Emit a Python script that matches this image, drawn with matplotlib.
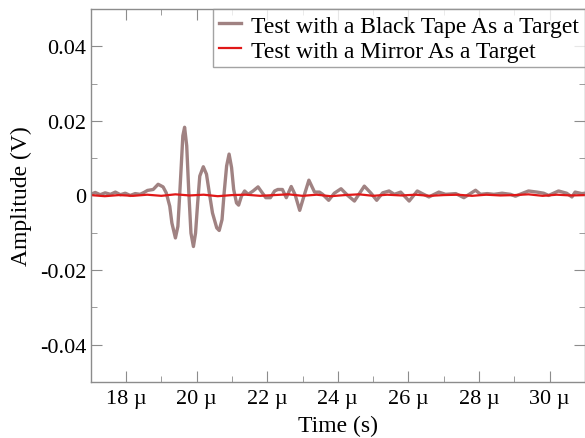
import matplotlib
matplotlib.use("Agg")
import matplotlib.pyplot as plt
from matplotlib.ticker import MultipleLocator

plt.rcParams['font.family'] = ['Liberation Serif', 'DejaVu Serif']
plt.rcParams['axes.unicode_minus'] = False

# Time in microseconds, amplitude in volts
tape_t = [17.00, 17.13, 17.27, 17.41, 17.56, 17.70, 17.84, 17.98, 18.12, 18.26,
          18.40, 18.51, 18.61, 18.77, 18.91, 19.05, 19.14, 19.24, 19.30, 19.40,
          19.47, 19.52, 19.57, 19.61, 19.66, 19.72, 19.78, 19.84, 19.91, 19.97,
          20.03, 20.09, 20.19, 20.28, 20.36, 20.45, 20.57, 20.64, 20.72, 20.78,
          20.85, 20.92, 20.99, 21.05, 21.13, 21.19, 21.27, 21.36, 21.46, 21.60,
          21.74, 21.86, 21.96, 22.09, 22.21, 22.30, 22.43, 22.54, 22.68,
          22.79, 22.92, 23.03, 23.18, 23.34, 23.48, 23.57, 23.74, 23.90, 24.09,
          24.28, 24.47, 24.75, 24.94, 25.10, 25.27, 25.45, 25.60, 25.78, 26.02,
          26.25, 26.39, 26.58, 26.86, 27.05, 27.34, 27.57, 27.90, 28.04, 28.23,
          28.42, 28.65, 28.89, 29.03, 29.21, 29.40, 29.64, 29.83, 29.97, 30.25,
          30.48, 30.63, 30.72, 30.91, 31.00]
tape_v = [0.0003, 0.0008, 0.0002, 0.0007, 0.0003, 0.0009, 0.0002, 0.0006, 0.0000, 0.0005,
          0.0003, 0.0008, 0.00135, 0.0016, 0.0030, 0.0023, 0.0007, -0.0029, -0.0074, -0.0114,
          -0.0083, 0.0000, 0.0088, 0.0160, 0.0183, 0.0133, 0.0007, -0.0101, -0.0137, -0.0101,
          -0.0020, 0.0052, 0.0077, 0.0057, 0.0007, -0.0047, -0.0087, -0.0094, -0.0065, 0.0007,
          0.0079, 0.0111, 0.0075, 0.0016, -0.0020, -0.0026, -0.0002, 0.0012, 0.0003, 0.0012,
          0.0023, 0.0007, -0.0006, -0.0006, 0.0012, 0.0016, 0.0016, -0.0006, 0.0024,
          0.0002, -0.0040, -0.0005, 0.0041, 0.0009, 0.0009, 0.0003, -0.0013, 0.0006, 0.0018,
          0.0000, -0.0015, 0.0025, 0.0006, -0.0013, 0.0007, 0.0012, 0.0003, 0.0009, -0.0015,
          0.0012, 0.0005, -0.0004, 0.0009, 0.0003, 0.0005, -0.0006, 0.0014, 0.0003, 0.0005,
          0.0003, 0.0006, 0.0003, -0.0002, 0.0005, 0.0012, 0.0009, 0.0006, 0.0000, 0.0012,
          0.0006, -0.0004, 0.0009, 0.0005, 0.0006]

mirror_t = [17.0, 17.4, 17.8, 18.2, 18.6, 19.0, 19.4, 19.8, 20.2, 20.6, 21.0, 21.4,
            21.8, 22.2, 22.6, 23.0, 23.4, 23.8, 24.2, 24.6, 25.0, 25.4, 25.8, 26.2,
            26.6, 27.0, 27.4, 27.8, 28.2, 28.6, 29.0, 29.4, 29.8, 30.2, 30.6, 31.0]
mirror_v = [0.0001, -0.0002, 0.0001, -0.0001, 0.0002, -0.0001, 0.0003, 0.0000, 0.0002, -0.0002,
            0.0001, 0.0002, -0.0001, 0.0001, 0.0003, -0.0001, 0.0002, -0.0002, 0.0001, 0.0003,
            -0.0001, 0.0002, 0.0000, 0.0002, -0.0001, 0.0001, 0.0002, -0.0001, 0.0002, 0.0000,
            0.0001, 0.0003, -0.0001, 0.0002, 0.0000, 0.0001]

x_ticks = [18, 20, 22, 24, 26, 28, 30]
x_labels = ["18 µ", "20 µ", "22 µ", "24 µ", "26 µ", "28 µ", "30 µ"]
y_ticks = [-0.04, -0.02, 0, 0.02, 0.04]
y_labels = ["-0.04", "-0.02", "0", "0.02", "0.04"]

fig = plt.figure(figsize=(5.85, 4.39), dpi=100)
ax = fig.add_axes([0.155, 0.128, 0.845, 0.849])

ax.plot(tape_t, tape_v, color='#a08282', lw=2.4, solid_joinstyle='round',
        label='Test with a Black Tape As a Target')
ax.plot(mirror_t, mirror_v, color='#e01818', lw=1.6, label='Test with a Mirror As a Target')

ax.set_xlim(17, 31)
ax.set_ylim(-0.05, 0.05)
ax.set_xticks(x_ticks)
ax.set_xticklabels(x_labels)
ax.set_yticks(y_ticks)
ax.set_yticklabels(y_labels)
ax.xaxis.set_minor_locator(MultipleLocator(1))
ax.yaxis.set_minor_locator(MultipleLocator(0.01))

for s in ax.spines.values():
    s.set_color('#8c8c8c')
    s.set_linewidth(1.0)
ax.tick_params(which='both', direction='in', top=True, right=True, color='#8c8c8c',
               labelsize=16)
ax.tick_params(axis='y', pad=3)
ax.tick_params(axis='x', pad=5)
ax.tick_params(which='major', length=8)
ax.tick_params(which='minor', length=4)

ax.set_xlabel('Time (s)', fontsize=17, labelpad=5)
ax.set_ylabel('Amplitude (V)', fontsize=17, labelpad=6)

leg = ax.legend(loc='upper right', fontsize=17, frameon=True, fancybox=False,
                handlelength=0.95, handletextpad=0.42, borderpad=0.25, labelspacing=0.15,
                borderaxespad=0.0)
leg.get_frame().set_edgecolor('#8c8c8c')
leg.get_frame().set_linewidth(1.0)

fig.savefig('out.png', dpi=100)
